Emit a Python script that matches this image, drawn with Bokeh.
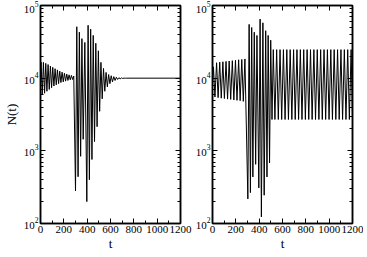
from bokeh.plotting import figure
from bokeh.layouts import row
from bokeh.models import Range1d, LinearAxis, LogAxis, FixedTicker
from bokeh.embed import file_html
from bokeh.resources import INLINE

# ---- data: turning points (t, N) ----
t_left = [0, 5, 15, 25, 35, 45, 55, 65, 75, 85, 95, 105, 115, 125, 135, 145,
          155, 165, 175, 185, 195, 205, 215, 225, 235, 245, 255, 265, 275, 285,
          300, 311, 322, 333, 344, 355, 366, 380, 397, 408, 419, 430, 441, 452,
          463, 474, 485, 496, 507, 518, 529, 540, 551, 562, 573, 584, 595, 606,
          617, 628, 639, 650, 661, 672, 683, 694, 705, 716, 727, 740, 1200]
n_left = [12000, 16600, 5900, 16500, 6200, 16000, 6600, 15400, 7000, 14700, 7400,
          14100, 7800, 13500, 8100, 13000, 8400, 12500, 8700, 12100, 8900, 11700,
          9100, 11400, 9300, 11100, 9500, 10900, 9600, 10700,
          280, 51000, 440, 43000, 840, 35000, 1440, 31000, 200, 53400, 400, 47300,
          760, 38800, 1340, 30200, 2150, 23800, 3500, 16500, 5200, 13600, 6600,
          12000, 7600, 11200, 8400, 10800, 8900, 10500, 9300, 10300, 9600, 10150,
          9800, 10080, 9900, 10030, 9970, 10000, 10000]

t_right = [0, 8, 21, 35, 48, 62, 75, 89, 102, 116, 129, 143, 156, 170, 183, 197,
           210, 224, 237, 251, 264, 278,
           303, 314, 325, 336, 346, 358, 370, 381, 397, 408, 419, 432, 443, 456,
           467, 477, 489, 499, 510, 521,
           535, 550, 564, 579, 593, 608, 622, 637, 651, 666, 680, 695, 709, 724,
           738, 753, 767, 782, 796, 811, 825, 840, 854, 869, 883, 898, 912, 927,
           941, 956, 970, 985, 999, 1014, 1028, 1043, 1057, 1072, 1086, 1101,
           1115, 1130, 1144, 1159, 1173, 1188, 1200]
n_right = [9000, 14300, 5500, 16300, 5400, 16600, 5300, 16800, 5250, 17000, 5150,
           17200, 5100, 17400, 5000, 17600, 4950, 17900, 4900, 18100, 4800, 18400,
           218, 55000, 266, 49800, 437, 42900, 652, 38700, 309, 65100, 123, 57800,
           245, 45000, 437, 38700, 684, 33300, 2700, 24700,
           2700, 24700, 2700, 24700, 2700, 24700, 2700, 24700, 2700, 24700, 2700,
           24700, 2700, 24700, 2700, 24700, 2700, 24700, 2700, 24700, 2700, 24700,
           2700, 24700, 2700, 24700, 2700, 24700, 2700, 24700, 2700, 24700, 2700,
           24700, 2700, 24700, 2700, 24700, 2700, 24700, 2700, 24700, 2700, 24700,
           2700, 24700, 2700]

x_ticks = [0, 200, 400, 600, 800, 1000, 1200]
y_ticks = [100, 1000, 10000, 100000]
x_label = "t"
y_label = "N(t)"

FONT = "Liberation Serif"

x_minor = [a + (b - a) / 2 for a, b in zip(x_ticks[:-1], x_ticks[1:])]
y_minor = [m * d for d in y_ticks[:-1] for m in range(2, 10)]


def style_axis(ax, labels=True):
    ax.major_tick_in = 5
    ax.major_tick_out = 0
    ax.minor_tick_in = 3
    ax.minor_tick_out = 0
    ax.axis_line_color = "black"
    ax.axis_line_width = 1.5
    ax.major_tick_line_color = "black"
    ax.minor_tick_line_color = "black"
    ax.major_label_text_font = FONT
    ax.axis_label_text_font = FONT
    ax.axis_label_text_font_style = "normal"
    ax.axis_label_text_font_size = "13px"
    ax.axis_label_text_color = "black"
    if labels:
        ax.major_label_text_font_size = "11px"
        ax.major_label_text_color = "black"
        ax.major_label_standoff = 2
    else:
        ax.major_label_text_font_size = "1px"
        ax.major_label_text_color = None
        ax.major_label_standoff = 0


def panel(t, n, ylab, bl, br):
    p = figure(frame_width=140, frame_height=218, output_backend="svg",
               toolbar_location=None, y_axis_type="log",
               x_range=Range1d(x_ticks[0], x_ticks[-1]),
               y_range=Range1d(y_ticks[0], y_ticks[-1]),
               min_border_left=bl, min_border_right=br,
               min_border_top=5, min_border_bottom=0)
    p.grid.visible = False
    p.outline_line_color = "black"
    p.outline_line_width = 1.5
    p.background_fill_color = "white"
    p.border_fill_color = "white"
    xt = FixedTicker(ticks=x_ticks, minor_ticks=x_minor)
    yt = FixedTicker(ticks=y_ticks, minor_ticks=y_minor)
    p.xaxis.ticker = xt
    p.yaxis.ticker = yt
    style_axis(p.xaxis[0])
    style_axis(p.yaxis[0])
    p.xaxis.axis_label = x_label
    p.xaxis.axis_label_standoff = 0
    if ylab:
        p.yaxis.axis_label = ylab
        p.yaxis.axis_label_standoff = 2
    top = LinearAxis(ticker=xt)
    style_axis(top, labels=False)
    p.add_layout(top, "above")
    right = LogAxis(ticker=yt)
    style_axis(right, labels=False)
    p.add_layout(right, "right")
    p.line(t, n, line_color="black", line_width=1)
    return p


p1 = panel(t_left, n_left, y_label, 29, 12)
p2 = panel(t_right, n_right, None, 18, 11)
p = row(p1, p2, spacing=0)

open("out.html", "w").write(file_html(p, INLINE))
